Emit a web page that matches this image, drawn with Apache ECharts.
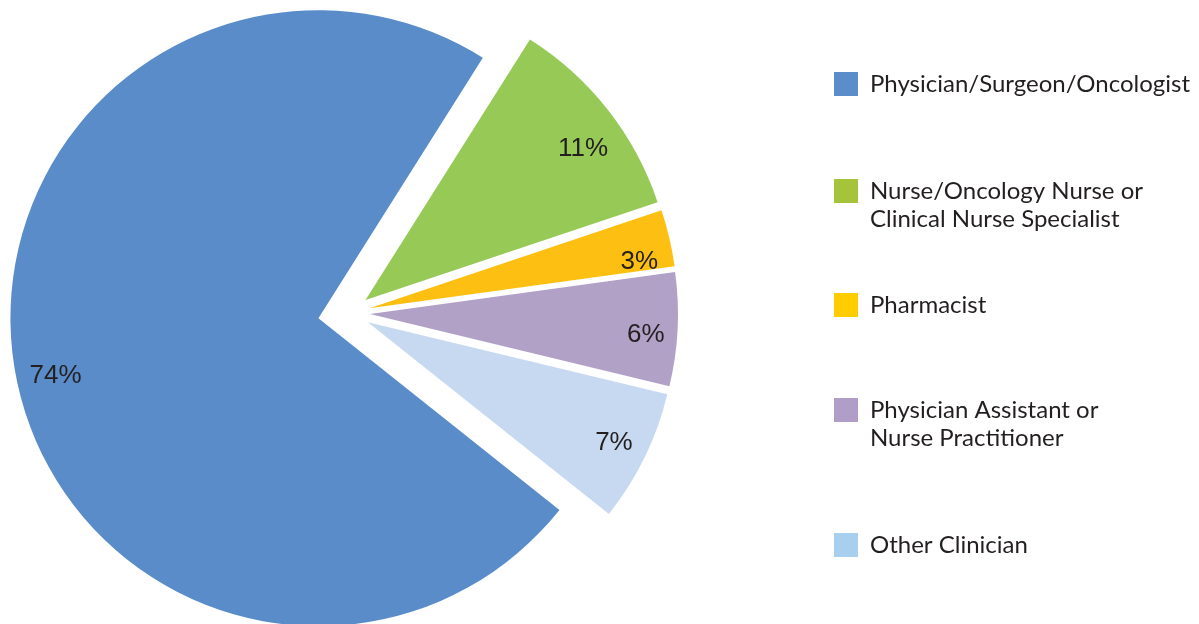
<!DOCTYPE html>
<html>
<head>
<meta charset="utf-8">
<script src="https://cdn.jsdelivr.net/npm/echarts@6/dist/echarts.min.js"></script>
<style>
  html, body { margin: 0; padding: 0; background: #fff; }
  #chart { width: 1199px; height: 624px; }
</style>
</head>
<body>
<div id="chart"></div>
<script>
const categories = [
  'Physician/Surgeon/Oncologist',
  'Nurse/Oncology Nurse or Clinical Nurse Specialist',
  'Pharmacist',
  'Physician Assistant or Nurse Practitioner',
  'Other Clinician'
]
const shares = [74, 11, 3, 6, 7]

const sliceColors = ['#598cc8', '#97c957', '#fdc012', '#b1a1c7', '#c6d9f0']
const legendColors = ['#5a8dc9', '#a5c43c', '#ffcc00', '#b09dc8', '#a9cfee']
// label nudges from the 'inside' anchor, px
const labelOffsets = [[-108, 31], [94, -54], [117, -11], [119, 13], [105, 52]]
// legend icon centre (y) for each entry
const legendRows = [84, 191, 305, 410, 545]

const chart = echarts.init(document.getElementById('chart'))

// big slice in one series, the small ones in another, so each group can be pulled out its own distance
function sliceData(keep) {
  return categories.map((name, i) => {
    const on = keep(i)
    return {
      name: name,
      value: shares[i],
      selected: on,
      itemStyle: { color: on ? sliceColors[i] : 'rgba(0,0,0,0)' },
      label: { show: on }
    }
  })
}

const pieBase = {
  type: 'pie',
  center: [349, 313],
  radius: 308,
  startAngle: -38.5,
  clockwise: true,
  selectedMode: 'multiple',
  silent: true,
  animation: false,
  avoidLabelOverlap: false,
  labelLine: { show: false },
  emphasis: { disabled: true },
  label: {
    position: 'inside',
    formatter: '{c}%',
    color: '#231f20',
    fontFamily: 'Liberation Sans',
    fontSize: 26
  },
  labelLayout: p => ({ dx: labelOffsets[p.dataIndex][0], dy: labelOffsets[p.dataIndex][1] })
}

const legends = categories.map((name, i) => {
  const twoLine = name.indexOf(' or ') > 0
  return {
    orient: 'vertical',
    left: 834,
    top: legendRows[i] - (twoLine ? 42 : 14),
    padding: 0,
    itemWidth: 24,
    itemHeight: 24,
    icon: 'rect',
    selectedMode: false,
    data: [{ name: name, itemStyle: { color: legendColors[i] } }],
    // an empty first line keeps the first text line level with the swatch
    formatter: n => n.indexOf(' or ') > 0 ? '\n' + n.replace(' or ', ' or\n') : n,
    textStyle: {
      fontFamily: 'Lato',
      fontSize: 24,
      lineHeight: 28,
      color: '#231f20',
      padding: [0, 0, 0, 7]
    }
  }
})

chart.setOption({
  backgroundColor: '#fff',
  animation: false,
  legend: legends,
  series: [
    Object.assign({}, pieBase, { name: 'main', selectedOffset: 31, data: sliceData(i => i === 0) }),
    Object.assign({}, pieBase, { name: 'rest', selectedOffset: 21, data: sliceData(i => i !== 0) })
  ]
})
</script>
</body>
</html>
